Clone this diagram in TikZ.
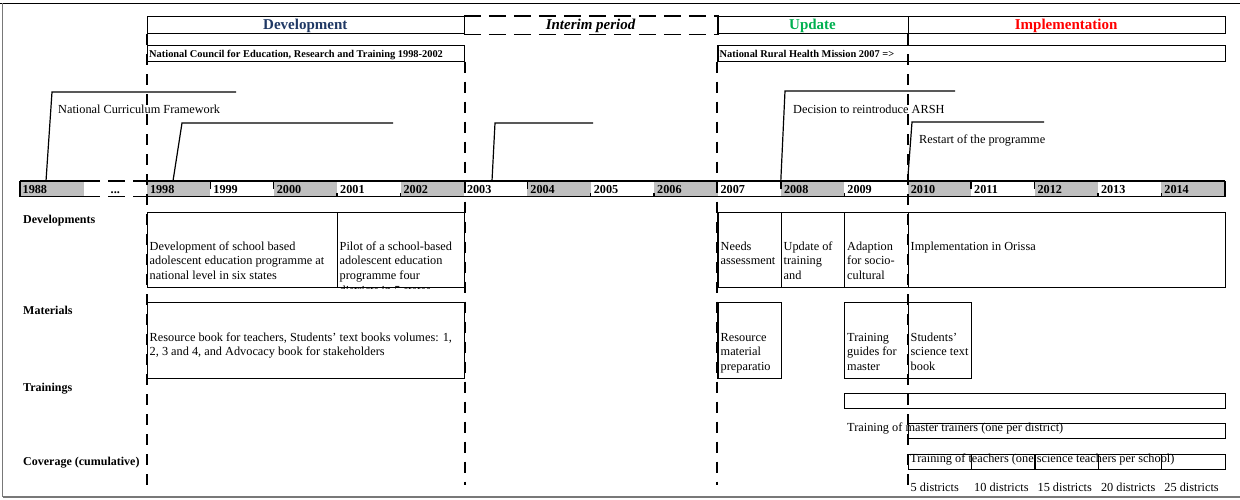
\documentclass[tikz,border=0pt]{standalone}
\usepackage{fontspec}
\setmainfont{Liberation Serif}
\usetikzlibrary{calc}

\definecolor{devblue}{RGB}{31,56,100}
\definecolor{updgreen}{RGB}{0,176,80}
\definecolor{implred}{RGB}{255,0,0}
\definecolor{yeargray}{RGB}{191,191,191}
\definecolor{framegray}{RGB}{120,120,120}

% multi-line cell text whose baseline is that of its first line
\newcommand{\cellstack}[1]{\begin{tabular}[t]{@{}l@{}}#1\end{tabular}}

\tikzset{
  box/.style={draw, line width=1.2pt, inner sep=0pt, anchor=north west},
  yearcell/.style={draw=none, inner sep=0pt, anchor=north west,
    minimum width=63.4pt, minimum height=15.5pt},
  barline/.style={line width=1.1pt},
  gapline/.style={line width=1.1pt, dash pattern=on 17pt off 8pt},
  tick/.style={line width=1.4pt},
  divider/.style={line width=1.9pt, dash pattern=on 11pt off 9pt},
  callout/.style={line width=1.2pt},
  heading/.style={font=\fontsize{15}{17}\selectfont\bfseries, inner sep=0pt, anchor=base},
  orgtext/.style={font=\fontsize{10.4}{12}\selectfont\bfseries, inner sep=0pt, anchor=base west},
  yearlabel/.style={font=\fontsize{12.2}{14}\selectfont\bfseries, inner sep=0pt, anchor=base west},
  rowlabel/.style={font=\fontsize{12}{14}\selectfont\bfseries, inner sep=0pt, anchor=base west},
  bodytext/.style={font=\fontsize{12.3}{14.7}\selectfont, inner sep=0pt, anchor=base west},
}

\begin{document}
\begin{tikzpicture}[x=1pt,y=-1pt]
\useasboundingbox (0,0) rectangle (1240,499);

% outer frame
\draw[line width=1pt] (0,3) -- (1240,3);
\draw[framegray, line width=1.2pt] (2.5,3) -- (2.5,497);
\draw[framegray, line width=1.2pt] (2.5,497) -- (1240,497);

% ---------- phases ----------
\node[box, minimum width=317pt, minimum height=17pt] (phDev) at (146.8,16) {};
\node[box, draw=none, minimum width=253.6pt, minimum height=17pt] (phInt) at (463.8,16) {};
\draw[gapline] (phInt.north west) -- (phInt.north east);
\draw[gapline] (phInt.south west) -- (phInt.south east);
\node[box, minimum width=190.2pt, minimum height=17pt] (phUpd) at (717.4,16) {};
\node[box, minimum width=317pt, minimum height=17pt] (phImp) at (907.6,16) {};

\node[heading, text=devblue] (hDev) at (305.3,29.5) {Development};
\node[heading, font=\fontsize{15}{17}\selectfont\bfseries\itshape] (hInt) at (590.6,29.5) {Interim period};
\node[heading, text=updgreen] (hUpd) at (812.5,29.5) {Update};
\node[heading, text=implred] (hImp) at (1066.1,29.5) {Implementation};

% ---------- organisations ----------
\node[box, minimum width=317pt, minimum height=15.5pt] (orgNC) at (146.8,45) {};
\node[box, minimum width=507.2pt, minimum height=15.5pt] (orgNR) at (717.4,45) {};
\node[orgtext] (tNC) at (149,57) {National Council for Education, Research and Training 1998-2002};
\node[orgtext] (tNR) at (719.5,57) {National Rural Health Mission 2007 =>};

% ---------- year bar ----------
\foreach \i/\c in {0/yeargray,1/white,2/yeargray,3/white,4/yeargray,5/white,
                   6/yeargray,7/white,8/yeargray,9/white,10/yeargray,11/white,
                   12/yeargray,13/white,14/yeargray,15/white,16/yeargray,17/white,18/yeargray}
  \node[yearcell, fill=\c] (y\i) at (20+\i*63.4,181) {};

\draw[barline] (y0.north west) -- (y0.north east);
\draw[barline] (y0.south west) -- (y0.south east);
\draw[gapline] (y1.north west) -- (y1.north east);
\draw[gapline] (y1.south west) -- (y1.south east);
\draw[barline] (y2.north west) -- (y18.north east);
\draw[barline] (y2.south west) -- (y18.south east);
\draw[barline] (y0.north west) -- (y0.south west);
\draw[barline] (y18.north east) -- (y18.south east);

\foreach \i in {3,4,8,12,15,16}
  \draw[tick] (y\i.north west) -- ++(0,8);
\foreach \i in {5,6,9,10,13,17,18}
  \draw[tick] (y\i.south west) -- ++(0,-3.5);

\node[yearlabel] (t0) at (22.5,193) {1988};
\node[yearlabel, anchor=base] (t1) at (y1.center |- 0,193) {...};
\foreach \i in {2,...,18}{
  \pgfmathtruncatemacro{\yr}{1996+\i}
  \node[yearlabel] (t\i) at (20+\i*63.4+3,193) {\yr};
}

% ---------- call-outs ----------
\coordinate (ncfFoot) at (46,181);   \coordinate (ncfKnee) at (52,92);   \coordinate (ncfEnd) at (236,92);
\coordinate (nsFoot)  at (173,181);  \coordinate (nsKnee)  at (182,123); \coordinate (nsEnd)  at (393,123);
\coordinate (itFoot)  at (492,181);  \coordinate (itKnee)  at (495,123); \coordinate (itEnd)  at (593,123);
\coordinate (arFoot)  at (780.8,181);\coordinate (arKnee)  at (785,91);  \coordinate (arEnd)  at (955,91);
\coordinate (rsFoot)  at (907.6,181);\coordinate (rsKnee)  at (912,122); \coordinate (rsEnd)  at (1044,122);
\draw[callout] (ncfFoot) -- (ncfKnee) -- (ncfEnd);
\draw[callout] (nsFoot) -- (nsKnee) -- (nsEnd);
\draw[callout] (itFoot) -- (itKnee) -- (itEnd);
\draw[callout] (arFoot) -- (arKnee) -- (arEnd);
\draw[callout] (rsFoot) -- (rsKnee) -- (rsEnd);
\node[bodytext] (ncf) at (58,113) {National Curriculum Framework};
\node[bodytext] (arsh) at (793,113) {Decision to reintroduce ARSH};
\node[bodytext] (rst) at (919,143.5) {Restart of the programme};

% ---------- row labels ----------
\node[rowlabel] (lDev) at (23,223) {Developments};
\node[rowlabel] (lMat) at (23,314) {Materials};
\node[rowlabel] (lTrn) at (23,391) {Trainings};
\node[rowlabel] (lCov) at (23,465) {Coverage (cumulative)};

% ---------- developments ----------
\node[box, minimum width=190.2pt, minimum height=75pt] (dev1) at (146.8,212) {};
\node[box, minimum width=126.8pt, minimum height=75pt] (dev2) at (337,212) {};
\node[box, minimum width=63.4pt,  minimum height=75pt] (dev3) at (717.4,212) {};
\node[box, minimum width=63.4pt,  minimum height=75pt] (dev4) at (780.8,212) {};
\node[box, minimum width=63.4pt,  minimum height=75pt] (dev5) at (844.2,212) {};
\node[box, minimum width=317pt,   minimum height=75pt] (dev6) at (907.6,212) {};

\node[bodytext] (dt1) at (149.5,250) {\cellstack{Development of school based\\adolescent education programme at\\national level in six states}};
\begin{scope}
  \clip (dev2.north west) rectangle (dev2.south east);
  \node[bodytext] (dt2) at (339.5,250) {\cellstack{Pilot of a school-based\\adolescent education\\programme four\\districts in 5 states}};
\end{scope}
\node[bodytext] (dt3) at (720.5,250) {\cellstack{Needs\\assessment}};
\node[bodytext] (dt4) at (783.5,250) {\cellstack{Update of\\training\\and}};
\node[bodytext] (dt5) at (847,250) {\cellstack{Adaption\\for socio-\\cultural}};
\node[bodytext] (dt6) at (910.5,250) {Implementation in Orissa};

% ---------- materials ----------
\node[box, minimum width=317pt,  minimum height=76pt] (mat1) at (146.8,302) {};
\node[box, minimum width=63.4pt, minimum height=76pt] (mat2) at (717.4,302) {};
\node[box, minimum width=63.4pt, minimum height=76pt] (mat3) at (844.2,302) {};
\node[box, minimum width=63.4pt, minimum height=76pt] (mat4) at (907.6,302) {};

\node[bodytext] (mt1) at (149.5,341) {\cellstack{Resource book for teachers, Students' text books volumes: 1,\\2, 3 and 4, and Advocacy book for stakeholders}};
\node[bodytext] (mt2) at (720.5,341) {\cellstack{Resource\\material\\preparatio}};
\node[bodytext] (mt3) at (847,341) {\cellstack{Training\\guides for\\master}};
\node[bodytext] (mt4) at (910.5,341) {\cellstack{Students'\\science text\\book}};

% ---------- trainings ----------
\node[box, minimum width=380.4pt, minimum height=15pt] (trn) at (844.2,393) {};
\node[box, minimum width=317pt,   minimum height=15pt] (mst) at (907.6,423) {};
\node[bodytext] (tMst) at (847,431.5) {Training of master trainers (one per district)};
\foreach \k in {0,...,4}
  \node[box, minimum width=63.4pt, minimum height=15pt] (tch\k) at (907.6+\k*63.4,454) {};
\node[bodytext] (tTch) at (910,462.5) {Training of teachers (one science teachers per school)};

% ---------- coverage ----------
\node[bodytext] (c5)  at (910.5,491)  {5 districts};
\node[bodytext] (c10) at (974,491)    {10 districts};
\node[bodytext] (c15) at (1037.4,491) {15 districts};
\node[bodytext] (c20) at (1100.8,491) {20 districts};
\node[bodytext] (c25) at (1164.2,491) {25 districts};

% ---------- phase dividers ----------
\coordinate (floor) at (0,485);
\draw[divider] (phDev.south west) -- (phDev.south west |- floor);
\draw[divider] (orgNC.south east) -- (orgNC.south east |- floor);
\draw[divider] (orgNR.south west) -- (orgNR.south west |- floor);
\draw[divider] (phImp.south west) -- (phImp.south west |- floor);
\end{tikzpicture}
\end{document}
